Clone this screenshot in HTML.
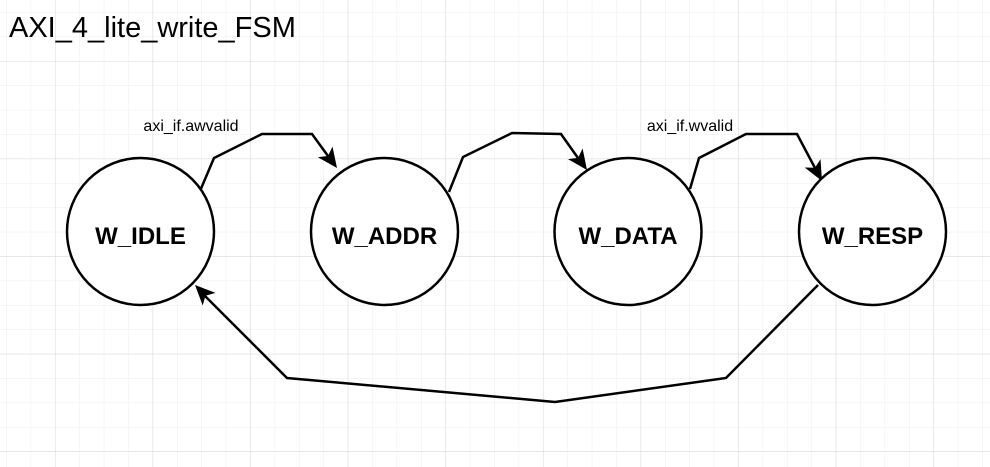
<!DOCTYPE html>
<html><head><style>
html,body{margin:0;padding:0;background:#fff;}
svg{display:block;}
</style></head><body>
<svg width="990" height="467" viewBox="0 0 990 467" xmlns="http://www.w3.org/2000/svg">
<defs>
<pattern id="minor" x="6.2" y="12.2" width="24.4" height="24.4" patternUnits="userSpaceOnUse">
<path d="M0 0H24.4M0 0V24.4" stroke="#ececec" stroke-width="1" fill="none"/>
</pattern>
<pattern id="major" x="55" y="61" width="97.6" height="97.6" patternUnits="userSpaceOnUse">
<path d="M0 0H97.6M0 0V97.6" stroke="#d8d8d8" stroke-width="1" fill="none"/>
</pattern>
</defs>
<rect width="990" height="467" fill="url(#minor)"/>
<rect width="990" height="467" fill="url(#major)"/>
<text x="9" y="37" font-family="Liberation Sans, sans-serif" font-size="29" fill="#000">AXI_4_lite_write_FSM</text>
<g fill="none" stroke="#000" stroke-width="2.5" stroke-linejoin="miter">
<path d="M200 191L214 158L262 134L312 134L328 156" />
<path d="M449 192L463 157L512 133L561 134L578 158" />
<path d="M690 189L699 158L746 134L797 134L815 168" />
<path d="M818 285L726 378L555 402L287 378L205 296" />
</g>
<g fill="#000">
<polygon points="337,168 317.9,157.2 328.1,155.9 332.5,146.6"/>
<polygon points="587,170 568,159.1 578.2,157.8 582.6,148.5"/>
<polygon points="822,181 804.7,167.5 815,167.8 820.5,159.1"/>
<polygon points="195,285 215.5,292.9 205.5,295.7 202.7,305.5"/>
</g>
<g fill="#fff" stroke="#000" stroke-width="2.5">
<circle cx="140.5" cy="231.5" r="73.5"/>
<circle cx="384.5" cy="231.5" r="73.5"/>
<circle cx="628" cy="231.5" r="73.5"/>
<circle cx="872.5" cy="231.5" r="73.5"/>
</g>
<g font-family="Liberation Sans, sans-serif" font-size="24" font-weight="bold" text-anchor="middle" fill="#000">
<text x="140.5" y="244">W_IDLE</text>
<text x="384.5" y="244">W_ADDR</text>
<text x="628" y="244">W_DATA</text>
<text x="872.5" y="244">W_RESP</text>
</g>
<g font-family="Liberation Sans, sans-serif" font-size="16" text-anchor="middle" fill="#000">
<text x="191" y="131">axi_if.awvalid</text>
<text x="690" y="131">axi_if.wvalid</text>
</g>
</svg>
</body></html>
